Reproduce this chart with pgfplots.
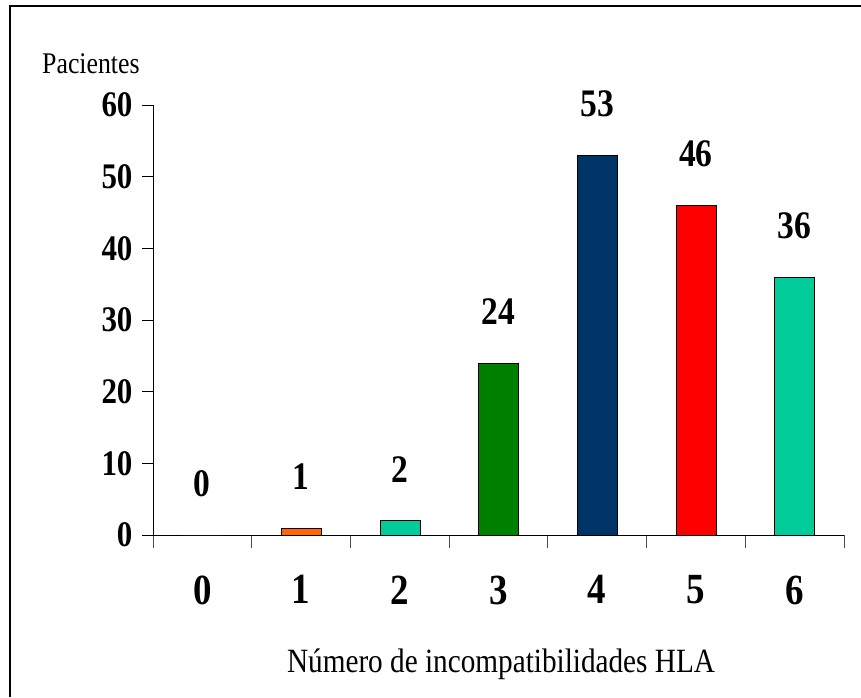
\documentclass[border=0pt]{standalone}
\usepackage{fontspec}
\setmainfont{Liberation Serif}[FakeStretch=0.86]
\usepackage{pgfplots}
\pgfplotsset{compat=1.18}

\definecolor{barorange}{RGB}{255,102,0}
\definecolor{barteal}{RGB}{0,204,153}
\definecolor{bargreen}{RGB}{0,128,0}
\definecolor{barnavy}{RGB}{0,51,102}
\definecolor{barred}{RGB}{255,0,0}

\begin{document}
\begin{tikzpicture}[x=1pt,y=1pt]
  \useasboundingbox (0,0) rectangle (861,697);
  % frame
  \draw[line width=2pt] (10,0) -- (10,691.3) -- (861,691.3);

  \begin{axis}[
    at={(153pt,162pt)}, anchor=south west,
    scale only axis, width=691pt, height=430pt,
    xmin=-0.5, xmax=6.5, ymin=0, ymax=60,
    axis x line=bottom, axis y line=left,
    axis line style={-, line width=1pt},
    ytick={0,10,...,60},
    xtick={0,...,6},
    minor xtick={-0.5,0.5,...,6.5},
    tick align=outside,
    major tick length=11pt,
    minor tick length=13pt,
    x tick style={draw=none},
    minor x tick style={draw=black!70, line width=1pt},
    y tick style={black, line width=1pt},
    /pgf/number format/assume math mode=true,
    yticklabel style={font=\bfseries\fontsize{36}{37}\selectfont, xshift=-6pt},
    xticklabel style={font=\bfseries\fontsize{43}{44}\selectfont, yshift=-26pt},
    ybar, bar width=40pt, bar shift=0pt,
    nodes near coords,
    every node near coord/.style={font=\bfseries\fontsize{39}{40}\selectfont, inner sep=0pt, anchor=south, yshift=38pt, text=black},
  ]
    \addplot[draw=black, fill=white] coordinates {(0,0)};
    \addplot[draw=black, fill=barorange] coordinates {(1,1)};
    \addplot[draw=black, fill=barteal] coordinates {(2,2)};
    \addplot[draw=black, fill=bargreen] coordinates {(3,24)};
    \addplot[draw=black, fill=barnavy] coordinates {(4,53)};
    \addplot[draw=black, fill=barred] coordinates {(5,46)};
    \addplot[draw=black, fill=barteal] coordinates {(6,36)};
  \end{axis}

  \node[anchor=base west, inner sep=0pt, font=\fontsize{30}{31}\selectfont] at (42,623) {Pacientes};
  \node[anchor=base, inner sep=0pt, font=\fontsize{34}{35}\selectfont] at (501,25) {Número de incompatibilidades HLA};
\end{tikzpicture}
\end{document}
